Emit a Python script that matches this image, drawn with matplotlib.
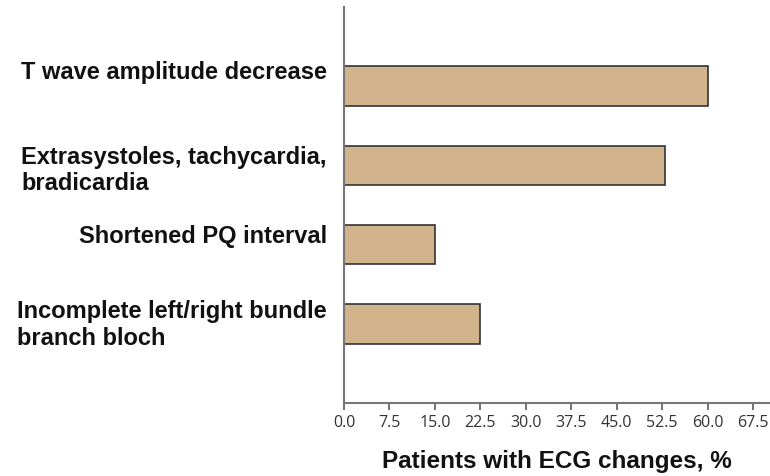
import matplotlib
matplotlib.use("Agg")
import matplotlib.pyplot as plt
import matplotlib.transforms as mtransforms

categories = [
    "T wave amplitude decrease",
    "Extrasystoles, tachycardia,\nbradicardia",
    "Shortened PQ interval",
    "Incomplete left/right bundle\nbranch bloch",
]
values = [60.0, 53.0, 15.0, 22.5]
xticks = [0.0, 7.5, 15.0, 22.5, 30.0, 37.5, 45.0, 52.5, 60.0, 67.5]

fig = plt.figure(figsize=(7.7, 4.77), dpi=100)
ax = fig.add_axes([0.4468, 0.153, 0.5532, 0.830])

pos = list(range(len(categories)))
ax.barh(pos, values, height=0.5, color="#D2B48C", edgecolor="#333333", linewidth=1.2)

ax.set_ylim(4.0, -1.0)
ax.set_xlim(0, 70.3)
ax.set_xticks(xticks)
ax.set_xticklabels(["%.1f" % t for t in xticks], fontsize=11.5, color="#333333",
                   family="Open Sans")
ax.tick_params(axis="x", direction="out", length=5, width=1.3, color="#666666", pad=3)
ax.set_yticks([])

for s in ["top", "right"]:
    ax.spines[s].set_visible(False)
for s in ["left", "bottom"]:
    ax.spines[s].set_color("#777777")
    ax.spines[s].set_linewidth(1.5)

# category labels, left of the axis, nudged like the original
offsets = [11, -3, 6.5, 0]
for i, lab in enumerate(categories):
    tr = ax.get_yaxis_transform() + mtransforms.ScaledTranslation(
        0, offsets[i] / 72, fig.dpi_scale_trans)
    ax.text(-0.040, i, lab, transform=tr, ha="right", va="center",
            multialignment="left", fontsize=17, fontweight="bold",
            family="Liberation Sans", color="#111111", linespacing=1.2)

ax.set_xlabel("Patients with ECG changes, %", fontsize=17.5, fontweight="bold",
              family="Liberation Sans", color="#111111", labelpad=13.5)

fig.savefig("out.png", dpi=100)
